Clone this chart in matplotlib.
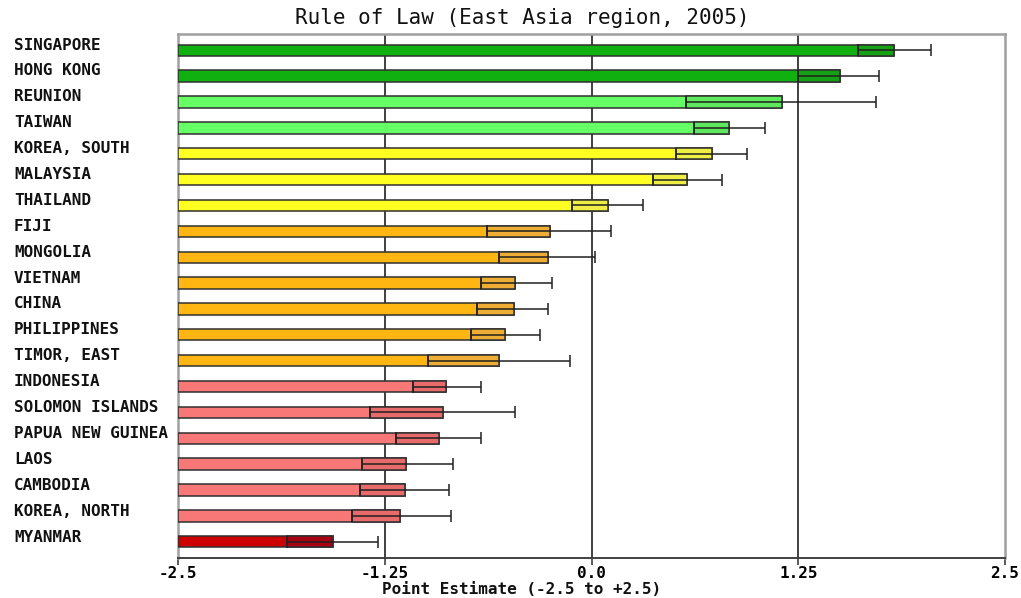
import matplotlib
matplotlib.use("Agg")
import matplotlib.pyplot as plt

countries = ["SINGAPORE", "HONG KONG", "REUNION", "TAIWAN", "KOREA, SOUTH", "MALAYSIA",
             "THAILAND", "FIJI", "MONGOLIA", "VIETNAM", "CHINA", "PHILIPPINES",
             "TIMOR, EAST", "INDONESIA", "SOLOMON ISLANDS", "PAPUA NEW GUINEA", "LAOS",
             "CAMBODIA", "KOREA, NORTH", "MYANMAR"]
estimate = [1.83, 1.50, 1.15, 0.83, 0.73, 0.58, 0.10, -0.25, -0.26, -0.46, -0.47, -0.52,
            -0.56, -0.88, -0.90, -0.92, -1.12, -1.13, -1.16, -1.56]
lower = [1.61, 1.25, 0.57, 0.62, 0.51, 0.37, -0.12, -0.63, -0.56, -0.67, -0.69, -0.73,
         -0.99, -1.08, -1.34, -1.18, -1.39, -1.40, -1.45, -1.84]
upper = [2.05, 1.74, 1.72, 1.05, 0.94, 0.79, 0.31, 0.12, 0.02, -0.24, -0.26, -0.31,
         -0.13, -0.67, -0.46, -0.67, -0.84, -0.86, -0.85, -1.29]
groups = ["top", "top", "high", "high", "mid", "mid", "mid", "low", "low", "low", "low", "low",
          "low", "poor", "poor", "poor", "poor", "poor", "poor", "bottom"]
group_colors = {"top": "#10B010", "high": "#66FF66", "mid": "#FFFF22",
                "low": "#FFB612", "poor": "#F87878", "bottom": "#CC0000"}
shade_colors = {"top": "#16A016", "high": "#5EE85E", "mid": "#EEEE44",
                "low": "#EEAE36", "poor": "#E86A6A", "bottom": "#A80010"}
ticks = [-2.5, -1.25, 0.0, 1.25, 2.5]
tick_labels = ["-2.5", "-1.25", "0.0", "1.25", "2.5"]

W, H = 1021, 598
fig = plt.figure(figsize=(W / 100, H / 100), dpi=100)
ax = fig.add_axes([178 / W, 1 - 558 / H, (1005 - 178) / W, (558 - 34) / H])

xmin = -2.5
n = len(countries)
pos = list(range(n))
bh = 0.44
for i in pos:
    g = groups[i]
    ax.barh(i, estimate[i] - xmin, left=xmin, height=bh, color=group_colors[g],
            edgecolor="#303030", linewidth=1.1, zorder=3)
    ax.barh(i, estimate[i] - lower[i], left=lower[i], height=bh, color=shade_colors[g],
            edgecolor="#303030", linewidth=1.1, zorder=4)
    ax.errorbar([estimate[i]], [i], xerr=[[estimate[i] - lower[i]], [upper[i] - estimate[i]]],
                fmt="none", ecolor="#202020", elinewidth=1.1, capsize=4, capthick=1.1, zorder=5)

ax.set_xlim(-2.5, 2.5)
ax.set_ylim(n - 1 + 0.63, -0.63)
ax.set_yticks([])
ax.set_xticks(ticks)
ax.set_xticklabels(tick_labels, fontfamily="DejaVu Sans Mono", fontweight="bold", fontsize=11.5)
ax.tick_params(axis="x", length=5, width=1.2, color="#404040", pad=1)
for x in ticks[1:-1]:
    ax.axvline(x, color="#404040", linewidth=1.4, zorder=1)
for s in ["top", "right", "left"]:
    ax.spines[s].set_color("#A0A0A0")
    ax.spines[s].set_linewidth(1.8)
ax.spines["bottom"].set_color("#404040")
ax.spines["bottom"].set_linewidth(1.4)

for i in pos:
    fig.text(14 / W, 1 - (45 + i * 25.9) / H, countries[i], fontfamily="DejaVu Sans Mono",
             fontweight="bold", fontsize=11.5, ha="left", va="center", color="#111111")

fig.text(522 / W, 1 - 18 / H, "Rule of Law (East Asia region, 2005)",
         fontfamily="DejaVu Sans Mono", fontsize=15, ha="center", va="center", color="#111111")
fig.text(522 / W, 1 - 590 / H, "Point Estimate (-2.5 to +2.5)",
         fontfamily="DejaVu Sans Mono", fontweight="bold", fontsize=11.5, ha="center",
         va="center", color="#111111")

fig.savefig("out.png", dpi=100)
